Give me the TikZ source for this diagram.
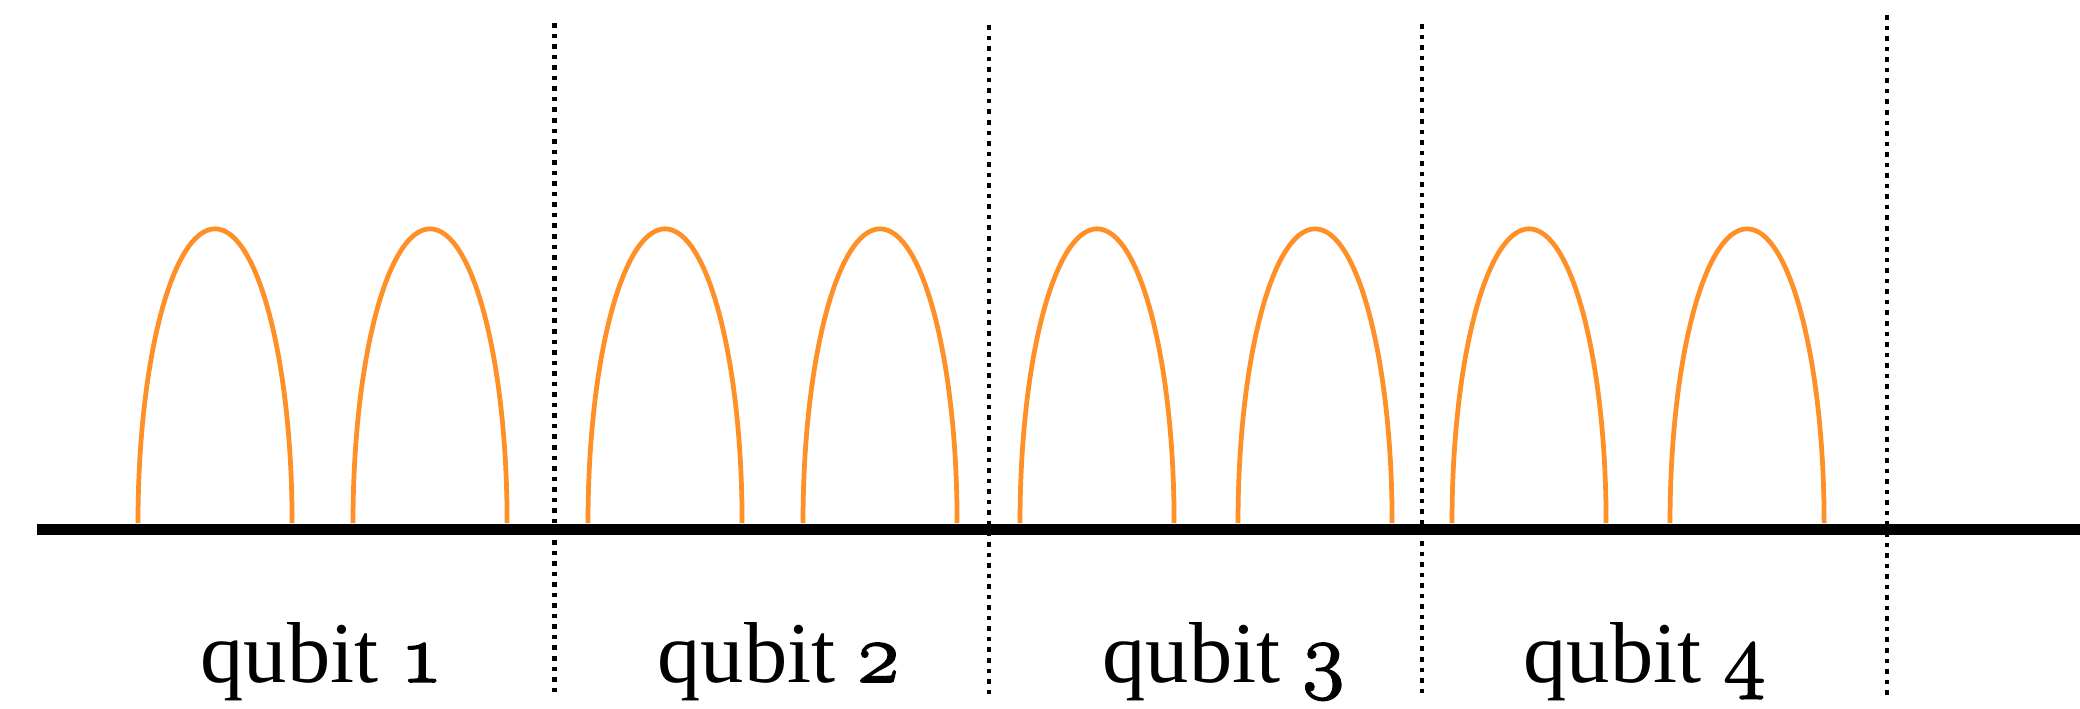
\RequirePackage{fix-cm}
\documentclass[tikz,border=0pt]{standalone}
\usepackage{fontspec}
\setmainfont{Liberation Serif}
\definecolor{arcorange}{RGB}{255,143,39}
\newcommand{\osnum}[1]{\special{pdf:literal q 2 Tr 0.45 w}\(\mathnormal{#1}\)\special{pdf:literal Q}}
\tikzset{
  wire/.style={line width=3.15pt, black},
  hop/.style={line width=1.35pt, arcorange},
  divider/.style={line width=1.35pt, black, dash pattern=on 1.3pt off 1.7pt},
  qlabel/.style={anchor=base west, inner sep=0pt, font=\fontsize{24.6pt}{30pt}\selectfont}
}
\begin{document}
\begin{tikzpicture}[x=0.01cm,y=0.01cm]
\useasboundingbox (0,0) rectangle (2080,708);
% main wire
\coordinate (wl) at (36.7,178.5);
\coordinate (wr) at (2080,178.5);
\draw[wire] (wl) -- (wr);
% arcs (half ellipses)
\foreach \i/\x in {1/138,2/353,3/588,4/803,5/1020,6/1238,7/1452,8/1670}{
  \coordinate (a\i) at (\x,185);
  \draw[hop] (a\i) arc[start angle=180,end angle=0,x radius=0.77cm,y radius=2.94cm];
}
% dotted dividers
\foreach \i/\x/\t in {1/554.7/685,2/989/683,3/1422/684,4/1887/693}{
  \coordinate (d\i t) at (\x,\t);
  \coordinate (d\i b) at (\x,10);
  \draw[divider] (d\i t) -- (d\i b);
}
% labels
\node[qlabel] (q1) at (200,26) {qubit \osnum{1}};
\node[qlabel] (q2) at (657,26) {qubit \osnum{2}};
\node[qlabel] (q3) at (1102,26) {qubit \osnum{3}};
\node[qlabel] (q4) at (1523,26) {qubit \osnum{4}};
\end{tikzpicture}
\end{document}
